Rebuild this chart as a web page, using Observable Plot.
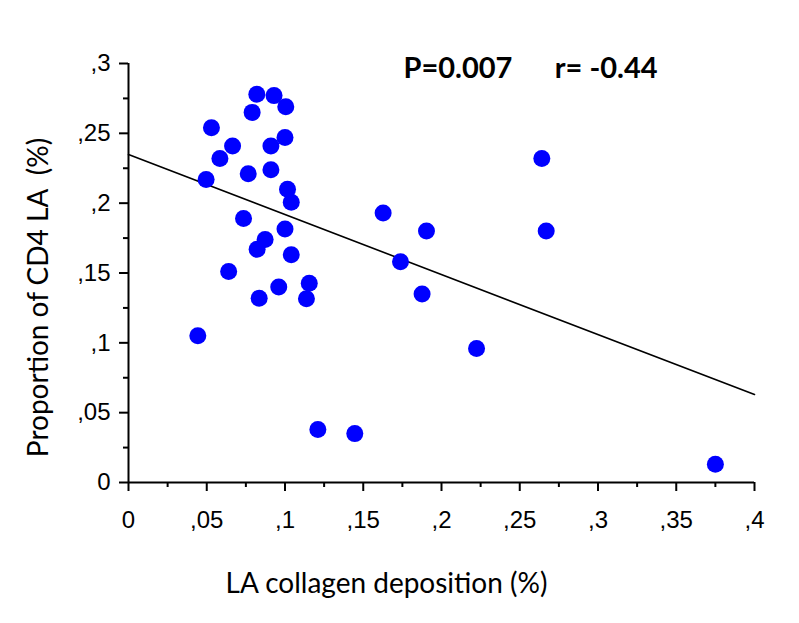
<!DOCTYPE html>
<html>
<head>
<meta charset="utf-8">
<script src="https://cdn.jsdelivr.net/npm/d3@7"></script>
<script src="https://cdn.jsdelivr.net/npm/@observablehq/plot@0.6"></script>
<style>
  html, body { margin: 0; padding: 0; background: #fff; }
</style>
</head>
<body>
<div id="chart"></div>
<script>
// Collagen deposition (x) and CD4 proportion (y)
const collagen = [0.0443, 0.053, 0.0496, 0.0584, 0.0665, 0.064, 0.0735, 0.0765, 0.079, 0.082,
  0.0822, 0.0873, 0.0835, 0.091, 0.091, 0.093, 0.1005, 0.100, 0.1016, 0.104,
  0.100, 0.104, 0.096, 0.1155, 0.1137, 0.121, 0.1446, 0.375, 0.1627, 0.1904,
  0.1738, 0.1876, 0.2224, 0.2641, 0.2669];
const cd4 = [0.105, 0.254, 0.217, 0.232, 0.241, 0.151, 0.189, 0.221, 0.265, 0.278,
  0.167, 0.174, 0.132, 0.224, 0.241, 0.277, 0.269, 0.247, 0.210, 0.2006,
  0.1815, 0.163, 0.140, 0.1426, 0.1316, 0.038, 0.035, 0.013, 0.193, 0.180,
  0.158, 0.135, 0.096, 0.232, 0.180];

// Fitted regression line as drawn
const fitIntercept = 0.2348;
const fitSlope = -0.4295;

const xTicks = [0, 0.05, 0.1, 0.15, 0.2, 0.25, 0.3, 0.35, 0.4];
const xTickLabels = ["0", ",05", ",1", ",15", ",2", ",25", ",3", ",35", ",4"];
const xMinor = [0.025, 0.075, 0.125, 0.175, 0.225, 0.275, 0.325, 0.375];
const yTicks = [0, 0.05, 0.1, 0.15, 0.2, 0.25, 0.3];
const yTickLabels = ["0", ",05", ",1", ",15", ",2", ",25", ",3"];
const yMinor = [0.025, 0.075, 0.125, 0.175, 0.225, 0.275];

const xTitle = "LA collagen deposition (%)";
const yTitle = "Proportion of CD4 LA\u00A0\u00A0(%)";
const annotation = "P=0.007\u00A0\u00A0\u00A0\u00A0\u00A0\u00A0r=\u00A0-0.44";

const points = collagen.map((x, i) => ({x, y: cd4[i]}));
const xDomain = [0, 0.4];
const fitLine = xDomain.map(x => ({x, y: fitIntercept + fitSlope * x}));
const xLabelRows = xTicks.map((t, i) => ({t, label: xTickLabels[i]}));
const yLabelRows = yTicks.map((t, i) => ({t, label: yTickLabels[i]}));
const tickFont = "'Liberation Sans', Arial, sans-serif";

const chart = Plot.plot({
  width: 799,
  height: 623,
  marginLeft: 128,
  marginRight: 45,
  marginTop: 63,
  marginBottom: 141,
  x: {domain: xDomain},
  y: {domain: [0, 0.3]},
  style: {fontFamily: tickFont, background: "#fff", color: "#000", overflow: "visible"},
  marks: [
    Plot.axisX(xTicks, {tickSize: 9, strokeWidth: 2, text: null, label: null}),
    Plot.axisX(xMinor, {tickSize: 5, strokeWidth: 2, text: null, label: null}),
    Plot.axisY(yTicks, {tickSize: 9, strokeWidth: 2, text: null, label: null}),
    Plot.axisY(yMinor, {tickSize: 5, strokeWidth: 2, text: null, label: null}),
    Plot.text(xLabelRows, {x: "t", text: "label", frameAnchor: "bottom", dy: 45, lineAnchor: "bottom",
      textAnchor: "middle", fontSize: 24, fontFamily: tickFont, fill: "#000"}),
    Plot.text(yLabelRows, {y: "t", text: "label", frameAnchor: "left", dx: -18, lineAnchor: "middle",
      textAnchor: "end", fontSize: 24, fontFamily: tickFont, fill: "#000"}),
    Plot.ruleY([0], {stroke: "#000", strokeWidth: 2}),
    Plot.ruleX([0], {stroke: "#000", strokeWidth: 2}),
    Plot.line(fitLine, {x: "x", y: "y", stroke: "#000", strokeWidth: 1.6}),
    Plot.dot(points, {x: "x", y: "y", r: 8.5, fill: "#0000ff", stroke: "none"}),
    Plot.text([annotation], {frameAnchor: "top-left", dx: 275, dy: 14, lineAnchor: "bottom", textAnchor: "start",
      fontSize: 29, fontWeight: "bold", fontFamily: "Lato", fill: "#000"}),
    Plot.text([xTitle], {frameAnchor: "bottom", dx: -55, dy: 110, lineAnchor: "bottom", textAnchor: "middle",
      fontSize: 28, fontFamily: "Lato", fill: "#000"}),
    Plot.text([yTitle], {frameAnchor: "left", dx: -81, dy: 24.5, rotate: -90, lineAnchor: "bottom", textAnchor: "middle",
      fontSize: 28, fontFamily: "Lato", fill: "#000"})
  ]
});
document.getElementById("chart").append(chart);
</script>
</body>
</html>
